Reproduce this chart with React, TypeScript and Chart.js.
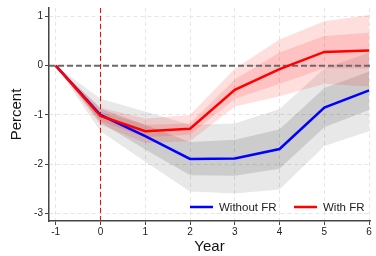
import React, { useEffect, useRef } from "react";
import { Chart, registerables } from "chart.js";

Chart.register(...registerables);

const FONT = "'Liberation Sans', Arial, sans-serif";

const years = [-1, 0, 1, 2, 3, 4, 5, 6];
const withoutFR = [0, -1.0, -1.43, -1.89, -1.88, -1.69, -0.85, -0.5];
const withFR = [0, -1.02, -1.33, -1.28, -0.49, -0.07, 0.28, 0.31];

const withoutInnerHi = [0, -0.87, -1.2, -1.55, -1.5, -1.29, -0.45, -0.12];
const withoutInnerLo = [0, -1.15, -1.7, -2.22, -2.23, -2.09, -1.25, -0.9];
const withoutOuterHi = [0, -0.67, -0.93, -1.2, -1.17, -0.88, -0.05, 0.27];
const withoutOuterLo = [0, -1.33, -1.95, -2.55, -2.59, -2.51, -1.63, -1.33];

const withInnerHi = [0, -0.93, -1.2, -1.17, -0.28, 0.27, 0.6, 0.67];
const withInnerLo = [0, -1.12, -1.45, -1.4, -0.67, -0.37, -0.05, -0.06];
const withOuterHi = [0, -0.85, -1.07, -1.0, -0.06, 0.53, 0.9, 1.03];
const withOuterLo = [0, -1.2, -1.57, -1.53, -0.83, -0.62, -0.37, -0.42];

const xTicks = [-1, 0, 1, 2, 3, 4, 5, 6];
const yTicks = [1, 0, -1, -2, -3];
const xRange = [-1.15, 6.02];
const yRange = [-3.15, 1.17];
const legendLabels = ["Without FR", "With FR"];
const legendColors = ["#0000ff", "#ff0000"];

const pts = (ys: number[]) => years.map((x, i) => ({ x, y: ys[i] }));

const band = (data: number[], fill: any, color: string, order: number) => ({
  data: pts(data),
  borderWidth: 0,
  borderColor: "transparent",
  backgroundColor: color,
  pointRadius: 0,
  fill,
  order,
});

const legendPlugin = {
  id: "insideLegend",
  afterDraw(chart: any) {
    const { ctx, chartArea } = chart;
    const y = chartArea.bottom - 14;
    const starts = [chartArea.right - 180, chartArea.right - 76];
    ctx.save();
    ctx.font = `11.5px ${FONT}`;
    ctx.textBaseline = "middle";
    ctx.textAlign = "left";
    legendLabels.forEach((label, i) => {
      const x0 = starts[i];
      ctx.strokeStyle = legendColors[i];
      ctx.lineWidth = 2.5;
      ctx.beginPath();
      ctx.moveTo(x0, y);
      ctx.lineTo(x0 + 23, y);
      ctx.stroke();
      ctx.fillStyle = "#222";
      ctx.fillText(label, x0 + 29, y + 0.5);
    });
    ctx.restore();
  },
};

export default function App() {
  const ref = useRef<HTMLCanvasElement>(null);

  useEffect(() => {
    document.body.style.margin = "0";
    const canvas = ref.current;
    if (!canvas) return;

    const gridOpts = {
      display: true,
      color: "#e6e6e6",
      lineWidth: 1,
      drawTicks: true,
      tickLength: 4,
      tickColor: "#444",
      tickWidth: 1,
    };
    const borderOpts = { display: true, color: "#444", width: 1.5, dash: [4, 3] };

    const chart = new Chart(canvas, {
      type: "line",
      data: {
        datasets: [
          band(withoutOuterLo, false, "transparent", 10),
          band(withoutOuterHi, "-1", "rgba(0,0,0,0.09)", 10),
          band(withoutInnerLo, false, "transparent", 9),
          band(withoutInnerHi, "-1", "rgba(0,0,0,0.12)", 9),
          band(withOuterLo, false, "transparent", 8),
          band(withOuterHi, "-1", "rgba(255,0,0,0.13)", 8),
          band(withInnerLo, false, "transparent", 7),
          band(withInnerHi, "-1", "rgba(255,0,0,0.13)", 7),
          {
            data: [
              { x: xRange[0], y: 0 },
              { x: xRange[1], y: 0 },
            ],
            borderColor: "#6a6a6a",
            borderWidth: 2,
            borderDash: [6, 3],
            pointRadius: 0,
            fill: false,
            order: 4,
          },
          {
            data: [
              { x: 0, y: yRange[0] },
              { x: 0, y: yRange[1] },
            ],
            borderColor: "#ff0000",
            borderWidth: 1,
            borderDash: [5, 3],
            pointRadius: 0,
            fill: false,
            order: 3,
          },
          {
            label: legendLabels[0],
            data: pts(withoutFR),
            borderColor: legendColors[0],
            borderWidth: 2.5,
            pointRadius: 0,
            fill: false,
            order: 2,
          },
          {
            label: legendLabels[1],
            data: pts(withFR),
            borderColor: legendColors[1],
            borderWidth: 2.5,
            pointRadius: 0,
            fill: false,
            order: 1,
          },
        ] as any,
      },
      options: {
        animation: false,
        responsive: false,
        maintainAspectRatio: false,
        devicePixelRatio: 1,
        layout: { padding: { top: 5, right: 6, left: 0, bottom: 0 } },
        elements: { line: { tension: 0 }, point: { radius: 0 } },
        plugins: {
          legend: { display: false },
          tooltip: { enabled: false },
          title: { display: false },
        },
        scales: {
          x: {
            type: "linear",
            min: xRange[0],
            max: xRange[1],
            afterBuildTicks: (scale: any) => {
              scale.ticks = xTicks.map((v) => ({ value: v }));
            },
            afterFit: (scale: any) => {
              scale.height = 35;
            },
            ticks: {
              callback: (v: any) => String(v),
              font: { size: 10, family: FONT },
              color: "#222",
              padding: 1,
              maxRotation: 0,
              autoSkip: false,
            },
            grid: gridOpts,
            border: borderOpts,
            title: {
              display: true,
              text: "Year",
              font: { size: 15, family: FONT },
              color: "#111",
              padding: { top: 0, bottom: 0 },
            },
          },
          y: {
            type: "linear",
            min: yRange[0],
            max: yRange[1],
            afterBuildTicks: (scale: any) => {
              scale.ticks = yTicks.map((v) => ({ value: v }));
            },
            afterFit: (scale: any) => {
              scale.width = 49;
            },
            ticks: {
              callback: (v: any) => String(v),
              font: { size: 10, family: FONT },
              color: "#222",
              padding: 2,
              autoSkip: false,
            },
            grid: gridOpts,
            border: borderOpts,
            title: {
              display: true,
              text: "Percent",
              font: { size: 15, family: FONT },
              color: "#111",
              padding: { top: 8, bottom: 0 },
            },
          },
        },
      } as any,
      plugins: [legendPlugin],
    });

    return () => chart.destroy();
  }, []);

  return (
    <div style={{ width: 376, height: 256, position: "relative", background: "#fff" }}>
      <canvas ref={ref} width={376} height={256} style={{ width: 376, height: 256, display: "block" }} />
    </div>
  );
}
